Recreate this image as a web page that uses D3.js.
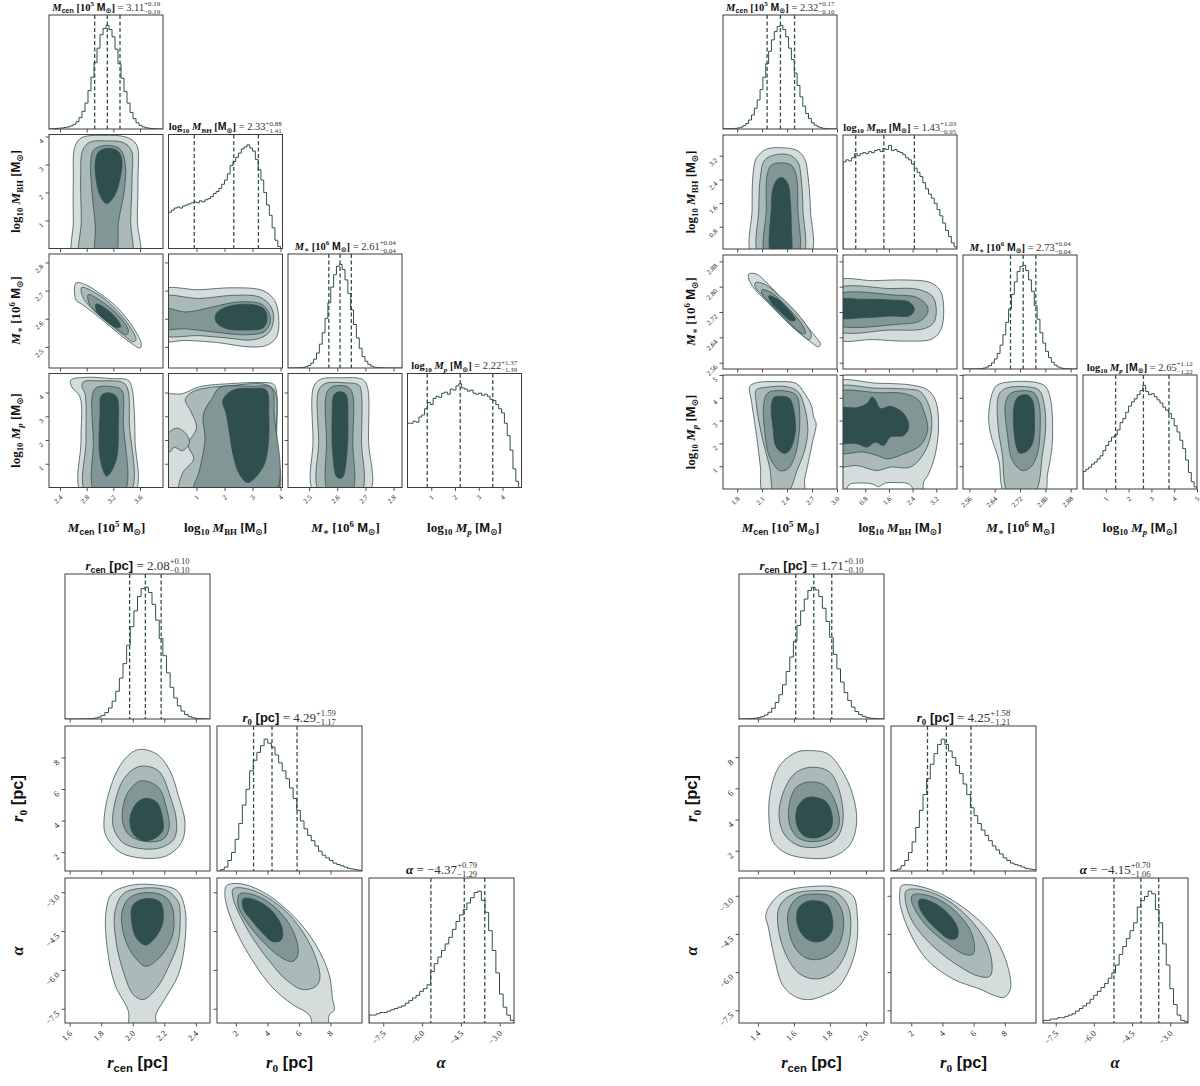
<!DOCTYPE html>
<html><head><meta charset="utf-8">
<script src="https://cdn.jsdelivr.net/npm/d3@7"></script>
<style>body{margin:0;background:#fff}svg{display:block}text{white-space:pre}</style>
</head><body>
<svg id="c" width="1200" height="1086"></svg>
<script>
// ================= DATA =================
// ---- top-left corner (M_cen, log10 M_BH, M_*, log10 M_p) ----
const tlRanges = [[2.235,3.945],[0,4.07],[2.425,2.83],[0,4.8]];
const tlTicks = [[2.4,2.8,3.2,3.6],[1,2,3,4],[2.5,2.6,2.7,2.8],[1,2,3,4]];
const tlTickLabels = [["2.4","2.8","3.2","3.6"],["1","2","3","4"],["2.5","2.6","2.7","2.8"],["1","2","3","4"]];
const tlValues = [3.11, 2.33, 2.61, 2.22];
const tlPlus  = ["0.19","0.88","0.04","1.37"];
const tlMinus = ["0.19","1.41","0.04","1.39"];
const tlHistRanges = [[2.235,3.945],[0,4.1],[2.425,2.83],[0,4.8]];
const tlHistMcen = [0,0.3,0.5,0.8,1,1.5,2,3,4.5,7,11,17,25,37,50,64,78,91,97,100,96,89,77,63,49,36,25,16,10,6,3.5,2,1.2,0.7,0.4,0.2,0.1,0];
const tlHistBH = [35,37,39,40,39,41,42,43,44,45,44,46,45,47,48,50,53,55,58,62,66,72,80,84,88,92,96,98,100,97,94,86,76,66,54,42,32,20,8,2,0];
const tlHistMs = [0,0,0.1,0.2,0.3,0.6,1.2,2.4,4.7,8.5,14.4,23,34,48,63,78,90,98,100,95,85,72,56,42,29,19,11,6.5,3.5,1.8,0.8,0.4,0.2,0.1,0,0,0,0,0,0];
const tlHistMp = [62,62,64,63,68,70,76,82,80,86,88,87,91,92,90,95,94,98,100,96,95,93,94,91,90,91,89,90,88,85,84,80,76,72,62,50,36,18,6,0];

// contour levels: [level, [[x,y],...]]  (level -1 = empty hole)
const tlC_Mcen_BH = [
 [0,[[2.62,-0.5],[2.6,1],[2.6,2.5],[2.62,3.6],[2.72,3.95],[3.05,4.04],[3.4,3.97],[3.55,3.7],[3.57,2.5],[3.56,1],[3.57,-0.5]]],
 [1,[[2.72,-0.5],[2.72,1],[2.71,2.5],[2.74,3.5],[2.85,3.8],[3.1,3.84],[3.35,3.78],[3.47,3.5],[3.48,2.5],[3.46,1],[3.45,-0.5]]],
 [2,[[2.95,-0.3],[2.93,0.8],[2.88,2],[2.86,3.0],[2.9,3.5],[3.08,3.68],[3.3,3.55],[3.38,3.0],[3.36,2],[3.28,1],[3.22,-0.3]]],
 [3,[[3.1,1.6],[3.0,1.9],[2.94,2.5],[2.93,3.1],[2.98,3.45],[3.13,3.58],[3.28,3.45],[3.33,3.1],[3.3,2.5],[3.22,1.9]]]
];
const tlC_Mcen_Ms = [
 [0,[[2.64,2.727],[2.80,2.719],[3.0,2.689],[3.25,2.642],[3.50,2.568],[3.62,2.511],[3.60,2.496],[3.45,2.516],[3.20,2.563],[2.95,2.612],[2.725,2.652],[2.64,2.666]]],
 [1,[[2.725,2.711],[2.95,2.689],[3.2,2.642],[3.45,2.571],[3.54,2.526],[3.50,2.518],[3.35,2.542],[3.1,2.590],[2.875,2.637],[2.74,2.678]]],
 [2,[[2.825,2.686],[3.0,2.665],[3.225,2.624],[3.425,2.560],[3.40,2.543],[3.225,2.569],[3.0,2.612],[2.84,2.652]]],
 [3,[[2.94,2.652],[3.10,2.634],[3.275,2.592],[3.31,2.571],[3.225,2.571],[3.05,2.60],[2.95,2.626]]]
];
const tlC_BH_Ms = [
 [0,[[-0.3,2.70],[1.1,2.703],[2.3,2.71],[3.37,2.70],[3.79,2.665],[3.94,2.594],[3.85,2.534],[3.49,2.505],[2.89,2.50],[1.7,2.516],[0.63,2.523],[-0.3,2.525]]],
 [1,[[-0.3,2.675],[1.11,2.672],[2.30,2.683],[3.25,2.677],[3.66,2.642],[3.75,2.594],[3.55,2.547],[3.01,2.525],[2.06,2.532],[1.11,2.540],[-0.3,2.547]]],
 [2,[[-0.3,2.637],[0.63,2.624],[1.58,2.642],[2.53,2.660],[3.37,2.649],[3.64,2.600],[3.45,2.556],[2.77,2.543],[1.70,2.552],[0.63,2.564],[-0.3,2.568]]],
 [3,[[1.70,2.618],[2.18,2.645],[3.01,2.650],[3.42,2.634],[3.52,2.600],[3.38,2.568],[2.77,2.560],[2.06,2.565],[1.70,2.588]]]
];
const tlC_Mcen_Mp = [
 [0,[[2.725,-0.2],[2.715,1.98],[2.70,3.81],[2.575,4.24],[2.56,4.52],[2.80,4.64],[3.15,4.59],[3.42,4.52],[3.475,4.24],[3.51,3.39],[3.525,1.98],[3.515,-0.2]]],
 [1,[[2.79,-0.2],[2.79,1.98],[2.775,3.96],[2.73,4.24],[2.75,4.45],[3.0,4.49],[3.35,4.41],[3.42,4.10],[3.44,2.69],[3.45,-0.2]]],
 [2,[[2.925,-0.2],[2.90,1.98],[2.89,3.96],[2.95,4.21],[3.2,4.24],[3.325,4.10],[3.35,2.69],[3.36,-0.2]]],
 [3,[[3.1,0.48],[3.0,1.27],[3.0,3.11],[3.025,3.89],[3.15,3.98],[3.25,3.81],[3.275,2.54],[3.24,1.13]]]
];
const tlC_BH_Mp = [
 [0,[[-0.3,3.85],[0.5,3.95],[1.1,4.24],[2.3,4.38],[3.3,4.42],[3.75,4.35],[3.86,4.0],[3.86,2.0],[3.87,-0.3],[1.9,-0.4],[-0.3,-0.3],[-0.4,1.8]]],
 [1,[[0.9,4.05],[2.3,4.3],[3.49,4.33],[3.8,4.05],[3.83,2.0],[3.84,-0.3],[2.0,-0.4],[0.4,-0.3],[0.5,0.6],[0.9,1.2],[0.7,1.8],[1.0,2.5],[0.8,3.2],[0.6,3.7]]],
 [1,[[0.0,2.3],[0.3,2.5],[0.6,2.3],[0.75,1.9],[0.5,1.55],[0.2,1.7],[0.05,1.5],[-0.2,1.9]]],
 [2,[[1.82,4.2],[3.0,4.26],[3.67,4.2],[3.77,3.1],[3.77,-0.3],[0.9,-0.3],[1.1,0.7],[1.3,1.98],[1.25,3.1],[1.58,3.8]]],
 [3,[[2.06,3.11],[1.94,3.67],[2.3,4.1],[3.01,4.17],[3.49,4.1],[3.58,3.11],[3.55,1.69],[3.37,0.85],[2.83,0.21],[2.53,0.57],[2.3,1.41],[2.18,2.26]]]
];
const tlC_Ms_Mp = [
 [0,[[2.519,-0.2],[2.514,1.98],[2.516,4.24],[2.54,4.55],[2.612,4.62],[2.69,4.55],[2.707,4.24],[2.711,1.98],[2.713,-0.2]]],
 [1,[[2.538,-0.2],[2.534,1.98],[2.534,4.1],[2.558,4.38],[2.624,4.41],[2.677,4.31],[2.686,3.96],[2.686,1.98],[2.683,-0.2]]],
 [2,[[2.57,-0.2],[2.562,1.98],[2.562,3.96],[2.582,4.24],[2.636,4.24],[2.654,3.96],[2.655,1.98],[2.65,-0.2]]],
 [3,[[2.6,0.42],[2.585,1.27],[2.582,3.11],[2.588,3.89],[2.606,4.03],[2.63,3.93],[2.638,2.82],[2.633,1.27],[2.618,0.42]]]
];

// ---- top-right corner ----
const trRanges = [[1.63,3.0],[0.05,3.9],[2.54,2.90],[0,5]];
const trTicks = [[1.8,2.1,2.4,2.7,3.0],[0.8,1.6,2.4,3.2],[2.56,2.64,2.72,2.80,2.88],[1,2,3,4,5]];
const trTickLabels = [["1.8","2.1","2.4","2.7","3.0"],["0.8","1.6","2.4","3.2"],["2.56","2.64","2.72","2.80","2.88"],["1","2","3","4","5"]];
const trValues = [2.32, 1.43, 2.73, 2.65];
const trPlus  = ["0.17","1.03","0.04","1.12"];
const trMinus = ["0.16","0.95","0.04","1.22"];
const trHistRanges = [[1.63,3.0],[0.05,3.9],[2.54,2.90],[0,5]];
const trHistMcen = [0.2,0.2,0.3,0.4,0.6,1,1.8,3.2,5.3,8.7,13.5,20,28,38,50,63,75,86,94,99,100,96,89,78,67,54,42,31,22,15,10,6,3.7,2.1,1.2,0.6,0.3,0.2,0.1,0.1];
const trHistBH = [84,86,85,88,92,90,92,93,92,94,93,95,96,94,97,96,100,95,96,94,93,91,88,86,82,78,74,70,64,58,53,49,44,38,32,25,18,12,6,2];
const trHistMs = [0,0,0,0.1,0.1,0.2,0.4,0.9,1.8,3.3,5.8,9.7,15,23,33,45,58,72,84,94,99,100,95,86,75,61,48,35,25,17,11,6.5,3.8,2,1,0.5,0.25,0.1,0,0];
const trHistMp = [17,19,21,24,26,29,32,37,42,46,50,52,57,64,68,74,80,84,87,91,95,100,94,91,92,89,86,83,79,76,73,68,61,55,47,39,28,16,7,2];

const trC_Mcen_BH = [
 [0,[[1.99,-0.2],[1.98,1.4],[1.99,2.54],[2.03,3.11],[2.15,3.42],[2.33,3.47],[2.51,3.39],[2.61,3.11],[2.65,2.54],[2.68,1.4],[2.67,-0.2]]],
 [1,[[2.07,-0.2],[2.06,1.4],[2.08,2.5],[2.13,3.05],[2.27,3.24],[2.43,3.22],[2.53,2.99],[2.57,2.42],[2.59,1.4],[2.58,-0.2]]],
 [2,[[2.15,-0.2],[2.15,1.4],[2.16,2.54],[2.21,2.88],[2.33,2.96],[2.45,2.88],[2.51,2.54],[2.53,1.4],[2.52,-0.2]]],
 [3,[[2.22,-0.2],[2.21,1.4],[2.23,2.08],[2.29,2.42],[2.35,2.45],[2.41,2.25],[2.44,1.63],[2.45,0.83],[2.43,-0.2]]]
];
const trC_Mcen_Ms = [
 [0,[[1.94,2.84],[2.03,2.84],[2.19,2.803],[2.43,2.734],[2.67,2.665],[2.80,2.618],[2.78,2.61],[2.67,2.628],[2.43,2.681],[2.19,2.745],[2.01,2.792],[1.94,2.824]]],
 [1,[[2.02,2.813],[2.13,2.808],[2.31,2.771],[2.55,2.707],[2.69,2.649],[2.67,2.633],[2.55,2.654],[2.31,2.713],[2.09,2.776],[2.02,2.797]]],
 [2,[[2.10,2.79],[2.21,2.781],[2.39,2.739],[2.59,2.676],[2.62,2.652],[2.57,2.654],[2.39,2.697],[2.19,2.75],[2.10,2.776]]],
 [3,[[2.18,2.771],[2.29,2.76],[2.43,2.723],[2.50,2.695],[2.45,2.692],[2.33,2.718],[2.21,2.75]]]
];
const trC_BH_Ms = [
 [0,[[-0.2,2.815],[1.08,2.819],[2.21,2.821],[3.0,2.813],[3.34,2.787],[3.45,2.729],[3.36,2.665],[3.06,2.635],[2.21,2.628],[1.08,2.633],[-0.2,2.638]]],
 [1,[[-0.2,2.79],[1.65,2.794],[2.55,2.792],[3.06,2.771],[3.2,2.729],[3.11,2.686],[2.77,2.667],[1.65,2.663],[-0.2,2.665]]],
 [2,[[-0.2,2.771],[1.87,2.773],[2.55,2.766],[2.89,2.739],[2.91,2.718],[2.66,2.692],[1.87,2.681],[-0.2,2.684]]],
 [3,[[-0.2,2.755],[0.75,2.76],[1.65,2.758],[2.27,2.752],[2.46,2.729],[2.32,2.709],[1.65,2.707],[0.75,2.702],[-0.2,2.705]]]
];
const trC_Mcen_Mp = [
 [0,[[2.12,-0.2],[2.08,0.96],[2.03,2.43],[1.97,3.9],[1.95,4.49],[2.03,4.66],[2.27,4.71],[2.51,4.63],[2.61,4.19],[2.69,3.68],[2.72,3.16],[2.75,2.87],[2.71,2.13],[2.66,1.25],[2.61,0.37],[2.6,-0.2]]],
 [1,[[2.25,-0.2],[2.19,0.96],[2.09,2.43],[2.03,3.75],[2.03,4.34],[2.15,4.46],[2.39,4.49],[2.53,4.27],[2.61,3.6],[2.65,2.58],[2.61,1.69],[2.52,0.81],[2.4,-0.2]]],
 [2,[[2.31,0.81],[2.19,1.4],[2.13,2.58],[2.12,3.75],[2.17,4.22],[2.35,4.31],[2.51,4.12],[2.55,3.46],[2.54,2.28],[2.49,1.4],[2.41,0.88]]],
 [3,[[2.36,1.57],[2.27,1.84],[2.23,2.72],[2.21,3.6],[2.24,4.01],[2.33,4.07],[2.43,3.97],[2.48,3.46],[2.5,2.58],[2.46,1.91],[2.41,1.62]]]
];
const trC_BH_Mp = [
 [0,[[-0.3,4.65],[1.2,4.64],[2.4,4.55],[2.9,4.35],[3.17,3.9],[3.28,2.87],[3.17,1.54],[2.94,0.66],[2.77,0.3],[2.7,-0.3],[1.2,-0.4],[-0.3,-0.3],[-0.4,2.2]]],
 [-1,[[0.2,-0.3],[0.25,0.18],[0.6,0.26],[1.05,0.22],[1.25,0.1],[1.45,0.25],[1.85,0.28],[2.3,0.2],[2.45,-0.3]]],
 [1,[[-0.3,4.42],[1.2,4.42],[2.2,4.38],[2.66,4.27],[3.0,3.46],[3.02,2.43],[2.77,1.54],[2.32,0.96],[1.65,0.96],[1.2,0.81],[0.52,1.03],[-0.3,1.0],[-0.4,2.7]]],
 [2,[[-0.3,4.2],[1.3,4.22],[2.1,4.19],[2.6,3.9],[2.77,3.46],[2.91,2.58],[2.66,1.91],[2.1,1.54],[1.54,1.32],[1.2,1.47],[0.75,1.62],[-0.3,1.62],[-0.4,2.9]]],
 [3,[[-0.3,3.53],[0.52,3.57],[0.86,3.75],[1.03,4.04],[1.14,3.9],[1.31,3.53],[1.65,3.63],[2.10,3.31],[2.27,2.72],[2.10,2.35],[1.65,2.28],[1.42,1.91],[1.14,2.06],[0.86,1.84],[0.52,1.99],[-0.3,2.06],[-0.4,2.8]]]
];
const trC_Ms_Mp = [
 [0,[[2.674,-0.2],[2.653,1.25],[2.627,2.43],[2.621,3.16],[2.632,4.19],[2.648,4.56],[2.70,4.71],[2.775,4.66],[2.801,4.49],[2.817,3.9],[2.823,2.72],[2.82,1.69],[2.807,0.66],[2.796,-0.2]]],
 [1,[[2.685,-0.2],[2.664,1.54],[2.65,2.87],[2.653,4.12],[2.674,4.41],[2.733,4.49],[2.78,4.34],[2.796,3.75],[2.801,2.72],[2.791,1.54],[2.764,-0.2]]],
 [2,[[2.674,3.75],[2.69,4.19],[2.733,4.31],[2.764,4.22],[2.78,3.75],[2.783,2.43],[2.775,1.54],[2.754,0.96],[2.727,0.81],[2.696,1.25],[2.68,2.43]]],
 [3,[[2.709,1.84],[2.70,2.72],[2.703,3.75],[2.717,4.07],[2.743,4.12],[2.759,3.9],[2.766,2.87],[2.759,1.99],[2.738,1.62],[2.717,1.59]]]
];

// ---- bottom-left corner (r_cen, r_0, alpha) ----
const blRanges = [[1.57,2.49],[0.8,10],[-8.05,-2.45]];
const blTicks = [[1.6,1.8,2.0,2.2,2.4],[2,4,6,8],[-7.5,-6.0,-4.5,-3.0]];
const blTickLabels = [["1.6","1.8","2.0","2.2","2.4"],["2","4","6","8"],["−7.5","−6.0","−4.5","−3.0"]];
const blValues = [2.08, 4.29, -4.37];
const blPlus  = ["0.10","1.59","0.79"];
const blMinus = ["0.10","1.17","1.29"];
const blHistRanges = [[1.57,2.49],[0.8,10],[-8.05,-2.45]];
const blHistRc = [0,0,0,0,0.05,0.1,0.2,0.3,0.7,1.4,2.7,4.9,8.4,13.5,21,31,42,56,70,82,93,99,100,96,87,75,61,48,35,24,16,10,6,3.4,1.8,0.9,0.4,0.2,0.1,0];
const blHistR0 = [0,1,3,8,14,24,36,50,62,76,84,90,95,100,97,94,88,82,76,70,63,55,46,38,32,27,23,19,15,12,10,8,6,5,4,3,2,1.5,1,0.5];
const blHistAl = [6,6,7,8,8,9,10,11,12,13,15,17,19,21,24,26,29,39,45,50,55,60,65,71,77,82,86,91,95,99,100,93,84,70,55,38,22,12,6,2];

const blC_Rc_R0 = [
 [0,[[2.035,8.5],[2.152,8.22],[2.236,7.16],[2.289,5.58],[2.331,3.89],[2.31,2.62],[2.215,1.77],[2.067,1.61],[1.919,1.99],[1.83,3.04],[1.817,3.89],[1.855,6.0],[1.94,7.79]]],
 [1,[[2.046,7.44],[2.162,7.16],[2.236,5.58],[2.278,3.89],[2.262,2.83],[2.184,2.30],[2.067,2.20],[1.94,2.58],[1.877,3.57],[1.887,5.16],[1.95,6.74]]],
 [2,[[2.057,6.53],[2.162,6.11],[2.215,4.73],[2.231,3.57],[2.194,2.83],[2.088,2.66],[1.982,3.04],[1.936,3.89],[1.95,5.37],[2.003,6.21]]],
 [3,[[2.078,5.41],[2.152,5.16],[2.19,4.1],[2.19,3.36],[2.13,2.83],[2.067,2.72],[2.003,3.15],[1.982,4.1],[2.02,5.05]]]
];
const blC_Rc_Al = [
 [0,[[1.982,-8.3],[1.972,-7.59],[1.887,-6.57],[1.838,-5.16],[1.83,-3.76],[1.866,-3.06],[1.982,-2.74],[2.13,-2.71],[2.279,-2.93],[2.331,-3.63],[2.331,-4.91],[2.289,-6.19],[2.194,-7.21],[2.147,-7.72],[2.141,-8.3]]],
 [1,[[2.3,-3.76],[2.289,-4.91],[2.236,-5.76],[2.152,-6.7],[2.067,-7.14],[2.003,-6.95],[1.94,-6.06],[1.894,-4.91],[1.887,-3.76],[1.94,-3.06],[2.067,-2.84],[2.215,-2.93],[2.289,-3.38]]],
 [2,[[2.067,-3.02],[2.19,-3.12],[2.247,-3.51],[2.257,-4.53],[2.215,-5.16],[2.152,-5.63],[2.082,-5.86],[2.014,-5.52],[1.95,-4.79],[1.93,-3.83],[1.972,-3.25]]],
 [3,[[2.077,-3.25],[2.173,-3.38],[2.194,-4.01],[2.173,-4.46],[2.13,-4.84],[2.082,-5.04],[2.025,-4.79],[1.993,-4.14],[2.0,-3.51]]]
];
const blC_R0_Al = [
 [0,[[1.41,-2.74],[2.25,-2.67],[3.72,-2.99],[5.61,-3.89],[7.08,-5.04],[7.92,-6.19],[8.13,-7.11],[8.24,-7.55],[7.92,-7.74],[7.81,-8.3],[6.98,-8.3],[6.66,-7.74],[5.61,-7.34],[4.35,-6.7],[3.09,-5.67],[2.04,-4.53],[1.41,-3.51],[1.3,-2.99]]],
 [1,[[1.83,-2.87],[3.09,-2.93],[4.98,-3.63],[6.24,-4.53],[7.08,-5.55],[7.33,-6.32],[7.08,-6.63],[6.24,-6.76],[5.19,-6.38],[4.14,-5.67],[3.09,-4.79],[2.25,-3.89],[1.83,-3.25]]],
 [2,[[2.25,-3.06],[3.51,-3.19],[4.98,-3.89],[5.82,-4.79],[5.93,-5.42],[5.61,-5.67],[4.77,-5.48],[3.72,-4.91],[2.67,-4.14],[2.14,-3.51]]],
 [3,[[2.46,-3.25],[3.3,-3.32],[4.35,-3.76],[4.94,-4.40],[4.88,-4.84],[4.35,-4.91],[3.72,-4.59],[2.99,-4.08],[2.46,-3.63]]]
];

// ---- bottom-right corner ----
const brRanges = [[1.295,2.10],[0.7,10],[-8.0,-2.3]];
const brTicks = [[1.4,1.6,1.8,2.0],[2,4,6,8],[-7.5,-6.0,-4.5,-3.0]];
const brTickLabels = [["1.4","1.6","1.8","2.0"],["2","4","6","8"],["−7.5","−6.0","−4.5","−3.0"]];
const brValues = [1.71, 4.25, -4.15];
const brPlus  = ["0.10","1.58","0.70"];
const brMinus = ["0.10","1.21","1.06"];
const brHistRanges = [[1.295,2.10],[0.65,10],[-8.0,-2.3]];
const brHistRc = [0.05,0.1,0.2,0.3,0.5,1,1.8,3.1,5.1,8.1,12.5,18.4,26,36,47,59,71,82,91,97.5,100,98,93,84,74,62,49,38,28,20,14,9,5.7,3.4,2,1.1,0.6,0.3,0.15,0.1];
const brHistR0 = [0,0.5,1.5,4,8,14,22,33,46,58,70,81,89,96,100,96,91,86,80,74,66,58,48,42,36,31,27,23,19,16,13,10,8,6,5,4,3,2,1.5,1];
const brHistAl = [2,2,3,3,4,4,5,6,7,9,11,13,15,18,21,24,27,30,34,38,44,52,58,64,70,76,88,93,96,100,98,86,76,60,44,26,14,6,2,1];

const brC_Rc_R0 = [
 [0,[[1.688,8.42],[1.789,8.21],[1.882,6.83],[1.937,5.13],[1.947,3.64],[1.91,2.36],[1.817,1.62],[1.688,1.51],[1.558,1.83],[1.484,2.58],[1.462,3.85],[1.469,5.77],[1.521,7.46],[1.614,8.32]]],
 [1,[[1.706,7.36],[1.799,7.04],[1.854,5.77],[1.872,3.85],[1.836,2.79],[1.743,2.26],[1.632,2.30],[1.549,3.0],[1.517,4.27],[1.549,5.98],[1.614,7.04]]],
 [2,[[1.688,6.41],[1.771,6.19],[1.836,4.91],[1.85,3.64],[1.808,2.9],[1.706,2.58],[1.623,2.83],[1.577,3.64],[1.573,4.91],[1.614,6.09]]],
 [3,[[1.697,5.45],[1.78,5.13],[1.814,4.06],[1.799,3.32],[1.725,2.83],[1.651,3.0],[1.614,3.74],[1.617,4.70],[1.654,5.29]]]
];
const brC_Rc_Al = [
 [0,[[1.706,-2.63],[1.836,-2.67],[1.928,-3.0],[1.952,-3.78],[1.947,-4.96],[1.90,-6.01],[1.836,-6.66],[1.761,-6.93],[1.688,-7.08],[1.614,-6.99],[1.539,-6.53],[1.493,-5.48],[1.456,-4.18],[1.443,-3.81],[1.465,-3.39],[1.539,-2.86]]],
 [1,[[1.706,-2.80],[1.836,-2.89],[1.90,-3.39],[1.914,-4.43],[1.882,-5.35],[1.817,-6.01],[1.725,-6.27],[1.632,-6.07],[1.558,-5.35],[1.511,-4.18],[1.521,-3.39],[1.595,-2.93]]],
 [2,[[1.706,-2.93],[1.817,-3.06],[1.869,-3.65],[1.872,-4.43],[1.836,-5.09],[1.752,-5.48],[1.669,-5.45],[1.604,-5.02],[1.567,-4.18],[1.573,-3.52],[1.623,-3.06]]],
 [3,[[1.706,-3.19],[1.78,-3.32],[1.814,-3.91],[1.808,-4.43],[1.761,-4.76],[1.706,-4.80],[1.651,-4.57],[1.617,-4.04],[1.623,-3.52],[1.66,-3.26]]]
];
const brC_R0_Al = [
 [0,[[1.36,-2.61],[2.11,-2.58],[3.82,-2.90],[5.95,-3.75],[7.44,-4.73],[8.19,-5.78],[8.36,-6.66],[7.97,-6.99],[7.33,-6.92],[6.37,-6.66],[4.67,-6.27],[2.96,-5.48],[1.90,-4.43],[1.30,-3.39],[1.26,-2.90]]],
 [1,[[1.68,-2.80],[2.54,-2.75],[4.24,-3.14],[5.95,-4.05],[6.91,-4.98],[7.19,-5.84],[7.02,-6.17],[6.37,-6.17],[5.1,-5.78],[3.39,-4.98],[2.11,-4.05],[1.64,-3.26]]],
 [2,[[2.11,-2.96],[3.17,-3.0],[4.67,-3.52],[5.74,-4.30],[6.06,-4.98],[5.95,-5.30],[5.42,-5.30],[4.24,-4.85],[2.96,-4.17],[2.22,-3.52],[2.0,-3.14]]],
 [3,[[2.54,-3.14],[3.39,-3.26],[4.45,-3.75],[4.99,-4.30],[4.92,-4.66],[4.45,-4.70],[3.6,-4.30],[2.86,-3.82],[2.49,-3.39]]]
];

// ================= STYLE / LAYOUT =================
const FILL = {'-1':'#ffffff','0':'#d5dcdc','1':'#acb9b9','2':'#829696','3':'#2f4f4f'};
const LINE = '#2f4f4f';
const FRAME = '#3d3d3d';
const SERIF = "'Liberation Serif','DejaVu Serif',serif";
const SANS = "'Liberation Sans','DejaVu Sans',sans-serif";
const SUN = '\u2299';

function fontFor(f){
  switch(f){
    case 'it':  return [SERIF,'italic','normal'];
    case 'bit': return [SERIF,'italic','bold'];
    case 'b':   return [SERIF,'normal','bold'];
    case 'sfb': return [SANS,'normal','bold'];
    default:    return [SERIF,'normal','normal'];
  }
}
// draw a little math-like string made of parts
function mathText(parent, parts, size, x, y, rotate){
  const g = parent.append('g');
  const txt = g.append('text').attr('x',0).attr('y',0).attr('fill','#111');
  let shift = 0;
  const setShift = (ts, s) => { if (s !== shift) { ts.attr('dy', (s - shift).toFixed(2)); shift = s; } };
  parts.forEach(p => {
    if (p.stack) {
      const ss = size*0.66;
      const sup = txt.append('tspan').text(p.stack[0]).attr('font-family',SERIF).attr('font-size',ss).attr('fill','#333');
      setShift(sup, -size*0.42);
      const len = sup.node().getComputedTextLength();
      const sub = txt.append('tspan').text(p.stack[1]).attr('font-family',SERIF).attr('font-size',ss).attr('fill','#333').attr('dx',-len);
      setShift(sub, size*0.30);
      return;
    }
    const [fam, st, w] = fontFor(p.f);
    const fs = (p.sub || p.sup) ? size*0.68 : size;
    const ts = txt.append('tspan').text(p.t).attr('font-family',fam).attr('font-style',st).attr('font-weight',w).attr('font-size',fs);
    if (p.fill) ts.attr('fill', p.fill);
    setShift(ts, p.sub ? size*0.24 : (p.sup ? -size*0.40 : 0));
  });
  const bb = txt.node().getBBox();
  const cx = bb.x + bb.width/2;
  if (rotate) g.attr('transform', `translate(${x},${y}) rotate(-90) translate(${-cx},0)`);
  else g.attr('transform', `translate(${x - cx},${y})`);
  return g;
}

const lblMcen  = () => [{t:'M',f:'bit'},{t:'cen',f:'sfb',sub:1},{t:' [10',f:'b'},{t:'5',f:'b',sup:1},{t:' ',f:'b'},{t:'M',f:'sfb'},{t:SUN,f:'sfb',sub:1},{t:']',f:'b'}];
const lblMstar = () => [{t:'M',f:'bit'},{t:'\u2217',f:'b',sub:1},{t:' [10',f:'b'},{t:'6',f:'b',sup:1},{t:' ',f:'b'},{t:'M',f:'sfb'},{t:SUN,f:'sfb',sub:1},{t:']',f:'b'}];
const lblLog   = (s, sf) => [{t:'log',f:'b'},{t:'10',f:'b',sub:1},{t:' ',f:'b'},{t:'M',f:'bit'},{t:s,f:sf,sub:1},{t:' [',f:'b'},{t:'M',f:'sfb'},{t:SUN,f:'sfb',sub:1},{t:']',f:'b'}];
const lblRcen  = () => [{t:'r',f:'bit'},{t:'cen',f:'sfb',sub:1},{t:' [pc]',f:'sfb'}];
const lblR0    = () => [{t:'r',f:'bit'},{t:'0',f:'b',sub:1},{t:' [pc]',f:'sfb'}];
const lblAlpha = () => [{t:'\u03b1',f:'bit'}];
const fmtVal = v => (v < 0 ? '\u2212' : '') + Math.abs(v).toFixed(2);

const corners = [
  {x0:49, y0:15, step:119.5, size:114, ranges:tlRanges, ticks:tlTicks, tickLabels:tlTickLabels,
   values:tlValues, plus:tlPlus, minus:tlMinus, hists:[tlHistMcen,tlHistBH,tlHistMs,tlHistMp], histRanges:tlHistRanges,
   labels:[lblMcen(), lblLog('BH','b'), lblMstar(), lblLog('p','bit')],
   contours:{'1-0':tlC_Mcen_BH,'2-0':tlC_Mcen_Ms,'2-1':tlC_BH_Ms,'3-0':tlC_Mcen_Mp,'3-1':tlC_BH_Mp,'3-2':tlC_Ms_Mp},
   titleFs:10.5, labelFs:13, tickFs:7, xLabelY:532, yLabelX:20},
  {x0:723, y0:15, step:120, size:114, ranges:trRanges, ticks:trTicks, tickLabels:trTickLabels,
   values:trValues, plus:trPlus, minus:trMinus, hists:[trHistMcen,trHistBH,trHistMs,trHistMp], histRanges:trHistRanges,
   labels:[lblMcen(), lblLog('BH','b'), lblMstar(), lblLog('p','bit')],
   contours:{'1-0':trC_Mcen_BH,'2-0':trC_Mcen_Ms,'2-1':trC_BH_Ms,'3-0':trC_Mcen_Mp,'3-1':trC_BH_Mp,'3-2':trC_Ms_Mp},
   titleFs:10.5, labelFs:13, tickFs:7, xLabelY:532, yLabelX:695},
  {x0:65, y0:574, step:152, size:145, ranges:blRanges, ticks:blTicks, tickLabels:blTickLabels,
   values:blValues, plus:blPlus, minus:blMinus, hists:[blHistRc,blHistR0,blHistAl], histRanges:blHistRanges,
   labels:[lblRcen(), lblR0(), lblAlpha()],
   contours:{'1-0':blC_Rc_R0,'2-0':blC_Rc_Al,'2-1':blC_R0_Al},
   titleFs:13, labelFs:16.5, tickFs:8.5, xLabelY:1068, yLabelX:23},
  {x0:739, y0:574, step:152, size:145, ranges:brRanges, ticks:brTicks, tickLabels:brTickLabels,
   values:brValues, plus:brPlus, minus:brMinus, hists:[brHistRc,brHistR0,brHistAl], histRanges:brHistRanges,
   labels:[lblRcen(), lblR0(), lblAlpha()],
   contours:{'1-0':brC_Rc_R0,'2-0':brC_Rc_Al,'2-1':brC_R0_Al},
   titleFs:13, labelFs:16.5, tickFs:8.5, xLabelY:1068, yLabelX:697}
];

// ================= DRAW =================
const svg = d3.select('#c');
svg.append('rect').attr('width',1200).attr('height',1086).attr('fill','#fff');
let clipId = 0;

function styleAxis(gAxis, tickFs, isX){
  gAxis.select('.domain').remove();
  gAxis.selectAll('.tick line').attr('stroke',FRAME).attr('stroke-width',0.9);
  gAxis.selectAll('.tick text')
    .attr('font-family',SERIF).attr('font-size',tickFs).attr('fill','#222')
    .attr('x',0).attr('y',0).attr('dy',null).attr('text-anchor','end')
    .attr('transform', isX ? `translate(2.5,${6 + tickFs*0.6}) rotate(-45)` : `translate(-5,${2 + tickFs*0.35}) rotate(-45)`);
}

corners.forEach(cfg => {
  const n = cfg.ranges.length;
  const root = svg.append('g');
  for (let i = 0; i < n; i++) {
    for (let j = 0; j <= i; j++) {
      const px = cfg.x0 + j*cfg.step, py = cfg.y0 + i*cfg.step, S = cfg.size;
      const xs = d3.scaleLinear().domain(cfg.ranges[j]).range([px, px+S]);
      const g = root.append('g');
      const cid = 'clip' + (clipId++);
      g.append('clipPath').attr('id',cid).append('rect').attr('x',px).attr('y',py).attr('width',S).attr('height',S);
      const inner = g.append('g').attr('clip-path',`url(#${cid})`);
      if (i === j) {
        const h = cfg.hists[i], hr = cfg.histRanges[i];
        const ys = d3.scaleLinear().domain([0, 110]).range([py+S, py]);
        const bw = (hr[1]-hr[0]) / h.length;
        const pts = [[hr[0], 0]];
        h.forEach((v,k) => { pts.push([hr[0]+k*bw, v]); pts.push([hr[0]+(k+1)*bw, v]); });
        pts.push([hr[1], 0]);
        inner.append('path').attr('d', d3.line().x(d=>xs(d[0])).y(d=>ys(d[1]))(pts))
          .attr('fill','none').attr('stroke',LINE).attr('stroke-width',1);
        const v = cfg.values[i];
        const q = [v - (+cfg.minus[i]), v, v + (+cfg.plus[i])];
        q.forEach(qq => inner.append('line').attr('x1',xs(qq)).attr('x2',xs(qq)).attr('y1',py).attr('y2',py+S)
          .attr('stroke',LINE).attr('stroke-width',1.3).attr('stroke-dasharray','4,2.5'));
        const tparts = cfg.labels[i].concat([{t:' = ' + fmtVal(v), f:'rm', fill:'#333'}, {stack:['+' + cfg.plus[i], '\u2212' + cfg.minus[i]]}]);
        mathText(root, tparts, cfg.titleFs, px + S/2, py - 4.5, false);
      } else {
        const ys = d3.scaleLinear().domain(cfg.ranges[i]).range([py+S, py]);
        const polys = cfg.contours[i + '-' + j] || [];
        const lineGen = d3.line().curve(d3.curveCatmullRomClosed.alpha(0.5)).x(d=>xs(d[0])).y(d=>ys(d[1]));
        polys.forEach(([lvl, pts]) => {
          inner.append('path').attr('d', lineGen(pts)).attr('fill', FILL[String(lvl)])
            .attr('stroke', LINE).attr('stroke-width', 0.75).attr('stroke-linejoin','round');
        });
        const showY = (j === 0);
        const ay = d3.axisLeft(ys).tickValues(cfg.ticks[i]).tickSize(3.5).tickPadding(0)
          .tickFormat((d,k) => showY ? cfg.tickLabels[i][k] : '');
        const gy = g.append('g').attr('transform',`translate(${px},0)`).call(ay);
        styleAxis(gy, cfg.tickFs, false);
      }
      g.append('rect').attr('x',px).attr('y',py).attr('width',S).attr('height',S)
        .attr('fill','none').attr('stroke',FRAME).attr('stroke-width',1);
      const showX = (i === n-1);
      const ax = d3.axisBottom(xs).tickValues(cfg.ticks[j]).tickSize(3.5).tickPadding(0)
        .tickFormat((d,k) => showX ? cfg.tickLabels[j][k] : '');
      const gx = g.append('g').attr('transform',`translate(0,${py+S})`).call(ax);
      styleAxis(gx, cfg.tickFs, true);
    }
  }
  for (let j = 0; j < n; j++) {
    const px = cfg.x0 + j*cfg.step;
    mathText(root, cfg.labels[j], cfg.labelFs, px + cfg.size/2, cfg.xLabelY, false);
  }
  for (let i = 1; i < n; i++) {
    const py = cfg.y0 + i*cfg.step;
    mathText(root, cfg.labels[i], cfg.labelFs, cfg.yLabelX, py + cfg.size/2, true);
  }
});
</script>
</body></html>
